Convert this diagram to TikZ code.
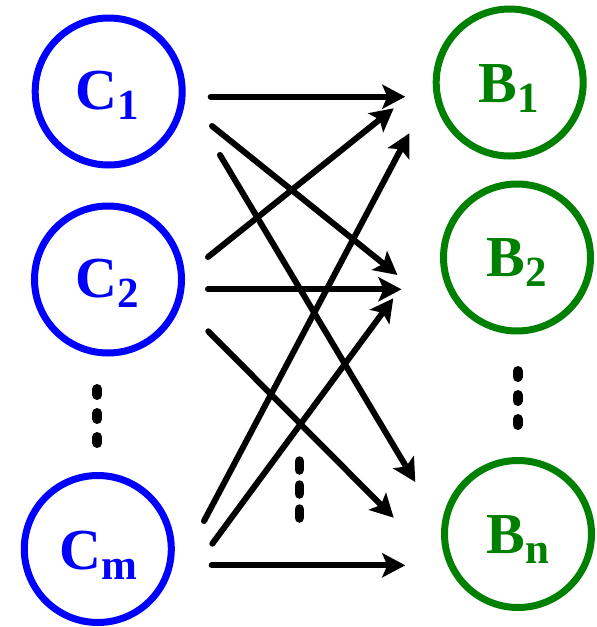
\documentclass[tikz,border=0pt]{standalone}
\usepackage{fontspec}
\setmainfont{Liberation Serif}
\usetikzlibrary{arrows.meta}
\definecolor{cblue}{RGB}{0,0,255}
\definecolor{bgreen}{RGB}{0,128,0}
\newcommand{\lbl}[2]{{\bfseries\fontsize{58}{58}\selectfont #1\raisebox{-10pt}{\fontsize{43}{43}\selectfont #2}}}
\begin{document}
\begin{tikzpicture}[x=1pt,y=-1pt,
  cnode/.style={circle,draw=cblue,line width=7pt,minimum size=147pt,inner sep=0pt},
  bnode/.style={circle,draw=bgreen,line width=7pt,minimum size=147pt,inner sep=0pt},
  clabel/.style={anchor=base west,inner sep=0pt,text=cblue},
  blabel/.style={anchor=base west,inner sep=0pt,text=bgreen},
  arr/.style={line width=6pt,line cap=round,-{Stealth[length=23pt,width=24pt,inset=5pt]}},
  vdots/.style={line width=10pt,line cap=round}]
\useasboundingbox (0,0) rectangle (597,627);
% circles
\node[cnode] (c1) at (108.7,91.5) {};
\node[cnode] (c2) at (108,279.5) {};
\node[cnode] (cm) at (97.8,549) {};
\node[bnode] (b1) at (509.7,82.5) {};
\node[bnode] (b2) at (517,257.5) {};
\node[bnode] (bn) at (518,534) {};
% labels
\node[clabel] (tc1) at (75,109) {\lbl{C}{1}};
\node[clabel] (tc2) at (75,297) {\lbl{C}{2}};
\node[clabel] (tcm) at (59.5,569) {\lbl{C}{m}};
\node[blabel] (tb1) at (478.5,102.5) {\lbl{B}{1}};
\node[blabel] (tb2) at (486.5,276) {\lbl{B}{2}};
\node[blabel] (tbn) at (486.5,553) {\lbl{B}{n}};
% vertical dots
\draw[vdots,dash pattern=on 6pt off 18pt] (97.3,389) -- (97.3,444);
\draw[vdots,line width=9.5pt,dash pattern=on 9pt off 15pt] (299.3,461) -- (299.3,519);
\draw[vdots,dash pattern=on 6pt off 18pt] (517.7,371) -- (517.7,426);
% connector end points
\coordinate (s1) at (210.7,96.7);  \coordinate (e1) at (405.3,96.7);
\coordinate (s2) at (212,126);     \coordinate (e2) at (397.5,275);
\coordinate (s3) at (220,155);     \coordinate (e3) at (415.3,482);
\coordinate (s4) at (208,257);     \coordinate (e4) at (393.7,108.3);
\coordinate (s5) at (208,289.3);   \coordinate (e5) at (401.5,289.3);
\coordinate (s6) at (208.3,331.3); \coordinate (e6) at (393.7,517.7);
\coordinate (s7) at (204,521);     \coordinate (e7) at (409.3,133.3);
\coordinate (s8) at (212.3,543.7); \coordinate (e8) at (393.3,298.3);
\coordinate (s9) at (211.7,565.3); \coordinate (e9) at (405.3,565.3);
% connectors
\draw[arr] (s1) -- (e1);
\draw[arr] (s2) -- (e2);
\draw[arr] (s3) -- (e3);
\draw[arr] (s4) -- (e4);
\draw[arr] (s5) -- (e5);
\draw[arr] (s6) -- (e6);
\draw[arr] (s7) -- (e7);
\draw[arr] (s8) -- (e8);
\draw[arr] (s9) -- (e9);
\end{tikzpicture}
\end{document}
